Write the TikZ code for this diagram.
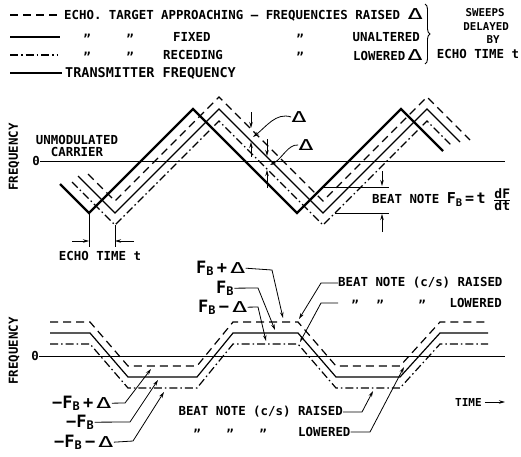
\documentclass[tikz,border=0pt]{standalone}
\usepackage{fontspec}
\setmainfont{DejaVu Sans Mono}
\usepackage{graphicx}
\usetikzlibrary{arrows.meta,positioning,decorations.pathreplacing}
\newcommand{\dlt}{\scalebox{1.7}[1]{\fontsize{15}{15}\mdseries Δ}}
\newcommand{\fb}{F\textsubscript{B}}

\begin{document}
\bfseries
\begin{tikzpicture}[
    x = 1pt, y = -1pt,
    txt/.style = {inner sep=0pt, font=\fontsize{12.4}{12.5}\selectfont},
    small_txt/.style = {inner sep=0pt, font=\fontsize{10.8}{12}\selectfont},
    big_txt/.style = {inner sep=0pt, font=\fontsize{17}{18}\selectfont},
    transmitter/.style = {line width=2.4pt},
    fixed_echo/.style = {line width=1.2pt},
    approach_echo/.style = {line width=1.2pt, dash pattern=on 8pt off 5pt},
    recede_echo/.style = {line width=1.2pt, dash pattern=on 8pt off 3pt on 1.5pt off 3pt},
    axis_line/.style = {line width=0.8pt},
    dim_line/.style = {line width=0.8pt},
    leader/.style = {line width=0.8pt, -{Stealth[length=6pt,width=3.5pt]}}
]
\useasboundingbox (0,0) rectangle (521,456);

% Legend
\draw [approach_echo] (10,15) -- (60,15);
\draw [fixed_echo] (10,37) -- (60,37);
\draw [recede_echo] (10,55) -- (58,55);
\draw [transmitter] (10,73) -- (62,73);
\node [txt, anchor=west] (leg1) at (64,15) {ECHO. TARGET APPROACHING --- FREQUENCIES RAISED \dlt};
\foreach \x in {87,130,300} {
  \node [txt, anchor=north] (dita\x) at (\x,34) {''};
  \node [txt, anchor=north] (ditb\x) at (\x,52) {''};
}
\node [txt, anchor=west] (leg2) at (173,37) {FIXED};
\node [txt, anchor=east] (leg2b) at (420,37) {UNALTERED};
\node [txt, anchor=west] (leg3) at (163,55) {RECEDING};
\node [txt, anchor=east] (leg3b) at (423,55) {LOWERED\,\dlt};
\node [inner sep=0pt, anchor=west, font=\fontsize{13.5}{14}\selectfont] (leg4) at (65,73) {TRANSMITTER FREQUENCY};
\draw [line width=0.9pt, decorate, decoration={brace, amplitude=5pt}] (425,4) -- (425,64);
\node [small_txt] (sw1) at (485,13) {SWEEPS};
\node [small_txt] (sw2) at (486,27) {DELAYED};
\node [small_txt] (sw3) at (493,40) {BY};
\node [txt] (sw4) at (478,54) {ECHO TIME t};

% Upper graph: sweeps
\node [txt, rotate=90] (freq1) at (14,157) {FREQUENCY};
\node [txt, align=center] (unmod) at (77,146) {UNMODULATED\\CARRIER};
\node [txt] (zero1) at (36,161) {0};
\coordinate (zero1end) at (505,161);
\draw [axis_line] (zero1.east) -- (zero1end);

\draw [transmitter] (60,184) -- (89,213) -- (193,109) -- (297,213) -- (401,109) -- (443,151);
\draw [fixed_echo] (78,176) -- (115,213) -- (219,109) -- (323,213) -- (427,109) -- (460,142);
\draw [approach_echo] (88,174) -- (115,201) -- (219,97) -- (323,201) -- (427,97) -- (470,140);
\draw [recede_echo] (72,182) -- (115,225) -- (219,121) -- (323,225) -- (427,121) -- (452,146);

% echo time
\coordinate (txlow) at (89,213);
\coordinate (rclow) at (115,225);
\coordinate (txfoot) at (89,247);
\coordinate (rcfoot) at (115,247);
\draw [dim_line] (txlow) -- (txfoot);
\draw [dim_line] (rclow) -- (rcfoot);
\coordinate (etl) at (72,241);
\coordinate (etr) at (134,241);
\draw [leader] (etl) -- (89,241);
\draw [leader] (etr) -- (115,241);
\node [txt] (echot) at (100,256) {ECHO TIME t};

% delta marks
\draw [leader] (251,112) -- (251,128);
\draw [leader] (251,157) -- (251,142);
\draw [leader] (267,139) -- (267,156);
\draw [leader] (267,188) -- (267,170);
\node [inner sep=0pt] (dl1) at (299,117) {\dlt};
\node [inner sep=0pt] (dl2) at (306,145) {\dlt};
\coordinate (dl1tip) at (253,137);
\coordinate (dl2tip) at (270,165);
\draw [leader] (dl1.west) .. controls (276,112) and (266,127) .. (dl1tip);
\draw [leader] (dl2.west) .. controls (288,144) and (282,159) .. (dl2tip);

% beat note
\coordinate (bnA) at (323,187);
\coordinate (bnAe) at (389,187);
\coordinate (bnB) at (335,213);
\coordinate (bnBe) at (389,213);
\draw [dim_line] (bnA) -- (bnAe);
\draw [dim_line] (bnB) -- (bnBe);
\draw [leader] (382,171) -- (382,186);
\draw [leader] (382,232) -- (382,214);
\node [txt, anchor=west] (beat1) at (372,200) {BEAT NOTE {\fontsize{15}{15}\selectfont\fb\,=\,t} {\fontsize{13}{13}\selectfont\(\frac{\mbox{dF}}{\mbox{dt}}\)}};

% Lower graph: beat note
\node [txt, rotate=90] (freq2) at (14,351) {FREQUENCY};
\node [txt] (zero2) at (35,356) {0};
\coordinate (zero2end) at (505,356);
\draw [axis_line] (zero2.east) -- (zero2end);
\foreach \sty/\dy in {approach_echo/11pt, fixed_echo/0pt, recede_echo/-11pt}
  \draw [\sty, yshift=\dy] (50,333) -- (90,333) -- (128,377) -- (197,377) -- (233,333)
    -- (298,333) -- (336,377) -- (400,377) -- (440,333) -- (488,333);

\node [big_txt, anchor=base west] (fbplus) at (196,273) {\fb\,+\,\dlt};
\node [big_txt, anchor=base west] (fbzero) at (216,293) {\fb};
\node [big_txt, anchor=base west] (fbminus) at (198,312) {\fb\,−\,\dlt};
\node [big_txt, anchor=base west] (nfbplus) at (52,408) {−\fb\,+\,\dlt};
\node [big_txt, anchor=base west] (nfbzero) at (66,427) {−\fb};
\node [big_txt, anchor=base west] (nfbminus) at (54,447) {−\fb\,−\,\dlt};

\draw [leader] (fbplus.east) -- (272,270) -- (283,318);
\draw [leader] (fbzero.east) -- (258,288) -- (275,330);
\draw [leader] (fbminus.east) -- (258,307) -- (266,341);
\draw [leader] (nfbplus.east) -- (125,403) -- (151,369);
\draw [leader] (nfbzero.east) -- (130,422) -- (158,380);
\draw [leader] (nfbminus.east) -- (133,441) -- (164,392);

\node [txt, anchor=west] (br1) at (338,283) {BEAT NOTE (c/s) RAISED};
\foreach \x in {355,380,422}
  \node [txt, anchor=north] (ditc\x) at (\x,300) {''};
\node [txt, anchor=east] (br2) at (502,303) {LOWERED};
\coordinate (br2start) at (338,303);
\draw [leader] (br1.west) -- (321,283) -- (299,319);
\draw [leader] (br2start) -- (321,303) -- (300,342);

\node [txt, anchor=east] (br3) at (343,412) {BEAT NOTE (c/s) RAISED};
\foreach \x in {197,230,263}
  \node [txt, anchor=north] (ditd\x) at (\x,429) {''};
\node [txt, anchor=west] (br4) at (298,432) {LOWERED};
\draw [leader] (br3.east) -- (362,412) -- (373,391);
\draw [leader] (br4.east) -- (370,432) -- (404,367);

\node [inner sep=0pt, anchor=west, font=\fontsize{11}{12}\selectfont] (tm) at (455,402) {TIME};
\coordinate (tmend) at (505,402);
\draw [leader] ([xshift=3pt]tm.east) -- (tmend);

\end{tikzpicture}
\end{document}
